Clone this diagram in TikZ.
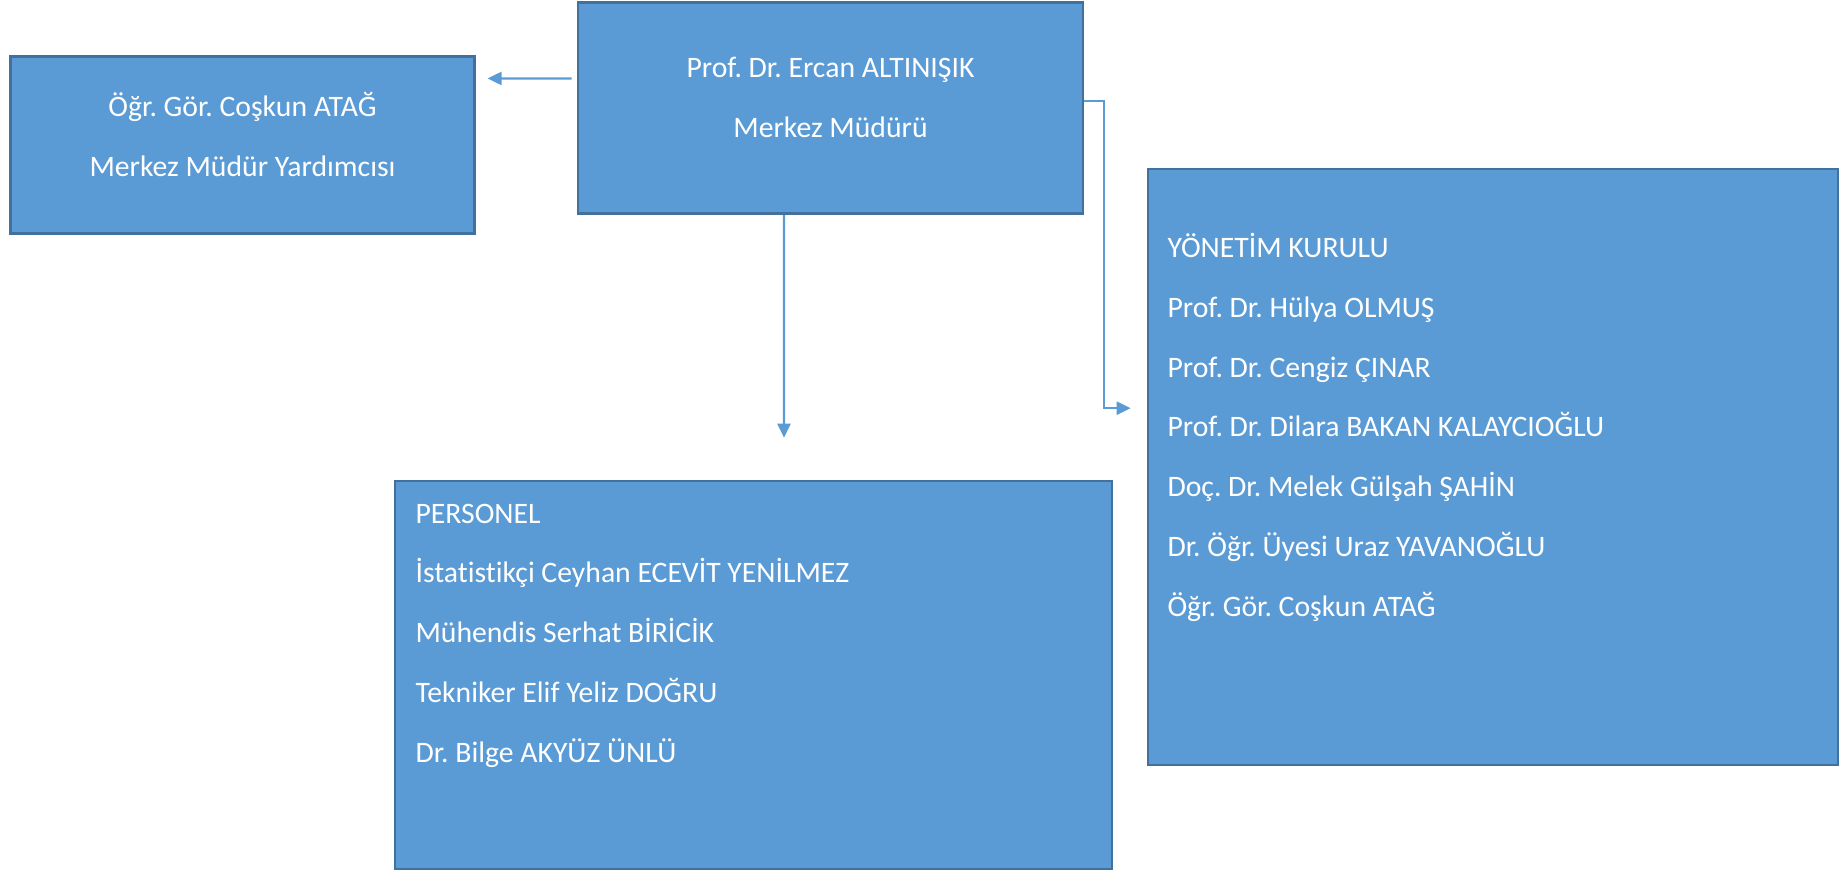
\documentclass[tikz,border=0pt]{standalone}
\usepackage{fontspec}
\setmainfont[Ligatures=CommonOff]{Carlito}
\usetikzlibrary{arrows.meta}
\definecolor{boxblue}{HTML}{5B9BD5}
\definecolor{boxedge}{HTML}{41719C}
\frenchspacing

\begin{document}
\begin{tikzpicture}[
  every node/.style={font=\fontsize{16.9}{34}\selectfont,text=white},
  unit/.style={rectangle,draw=boxedge,fill=boxblue,line width=1.5pt,inner sep=0pt},
  link/.style={draw=boxblue,line width=1.3pt,-{Triangle[length=2.8mm,width=2.6mm]}},
  names/.style={align=left,inner sep=0pt,anchor=base west},
  title/.style={align=center,inner sep=0pt}
]
  \useasboundingbox (0,0) rectangle (36.9,-17.4);

  \node[unit,minimum width=9.27cm,minimum height=3.55cm] (deputy) at (4.85,-2.90) {};
  \node[unit,minimum width=10.1cm,minimum height=4.23cm] (director) at (16.61,-2.16) {};
  \node[unit,minimum width=14.34cm,minimum height=7.76cm] (staff) at (15.07,-13.50) {};
  \node[unit,minimum width=13.8cm,minimum height=11.92cm] (board) at (29.86,-9.34) {};

  \node[title] (deputytext) at ([yshift=2.1mm]deputy.center)
    {Öğr. Gör. Coşkun ATAĞ\\Merkez Müdür Yardımcısı};
  \node[title] (directortext) at ([yshift=2.1mm]director.center)
    {Prof. Dr. Ercan ALTINIŞIK\\Merkez Müdürü};

  % base anchor sits on the last line
  \node[names] (stafftext) at ([shift={(0.43cm,-5.65cm)}]staff.north west)
    {PERSONEL\\
     İstatistikçi Ceyhan ECEVİT YENİLMEZ\\
     Mühendis Serhat BİRİCİK\\
     Tekniker Elif Yeliz DOĞRU\\
     Dr. Bilge AKYÜZ ÜNLÜ};
  \node[names] (boardtext) at ([shift={(0.41cm,-8.97cm)}]board.north west)
    {YÖNETİM KURULU\\
     Prof. Dr. Hülya OLMUŞ\\
     Prof. Dr. Cengiz ÇINAR\\
     Prof. Dr. Dilara BAKAN KALAYCIOĞLU\\
     Doç. Dr. Melek Gülşah ŞAHİN\\
     Dr. Öğr. Üyesi Uraz YAVANOĞLU\\
     Öğr. Gör. Coşkun ATAĞ};

  \draw[link] ([xshift=-1mm,yshift=-15.5mm]director.north west)
    -- ([xshift=2.4mm,yshift=-4.7mm]deputy.north east);
  \draw[link] ([xshift=-9.3mm]director.south)
    -- ([xshift=6.1mm,yshift=8.4mm]staff.north);
  \draw[link] ([yshift=1.4mm]director.east) -- ++(0.4cm,0)
    |- ([xshift=-3.2mm,yshift=-48.1mm]board.north west);
\end{tikzpicture}
\end{document}
